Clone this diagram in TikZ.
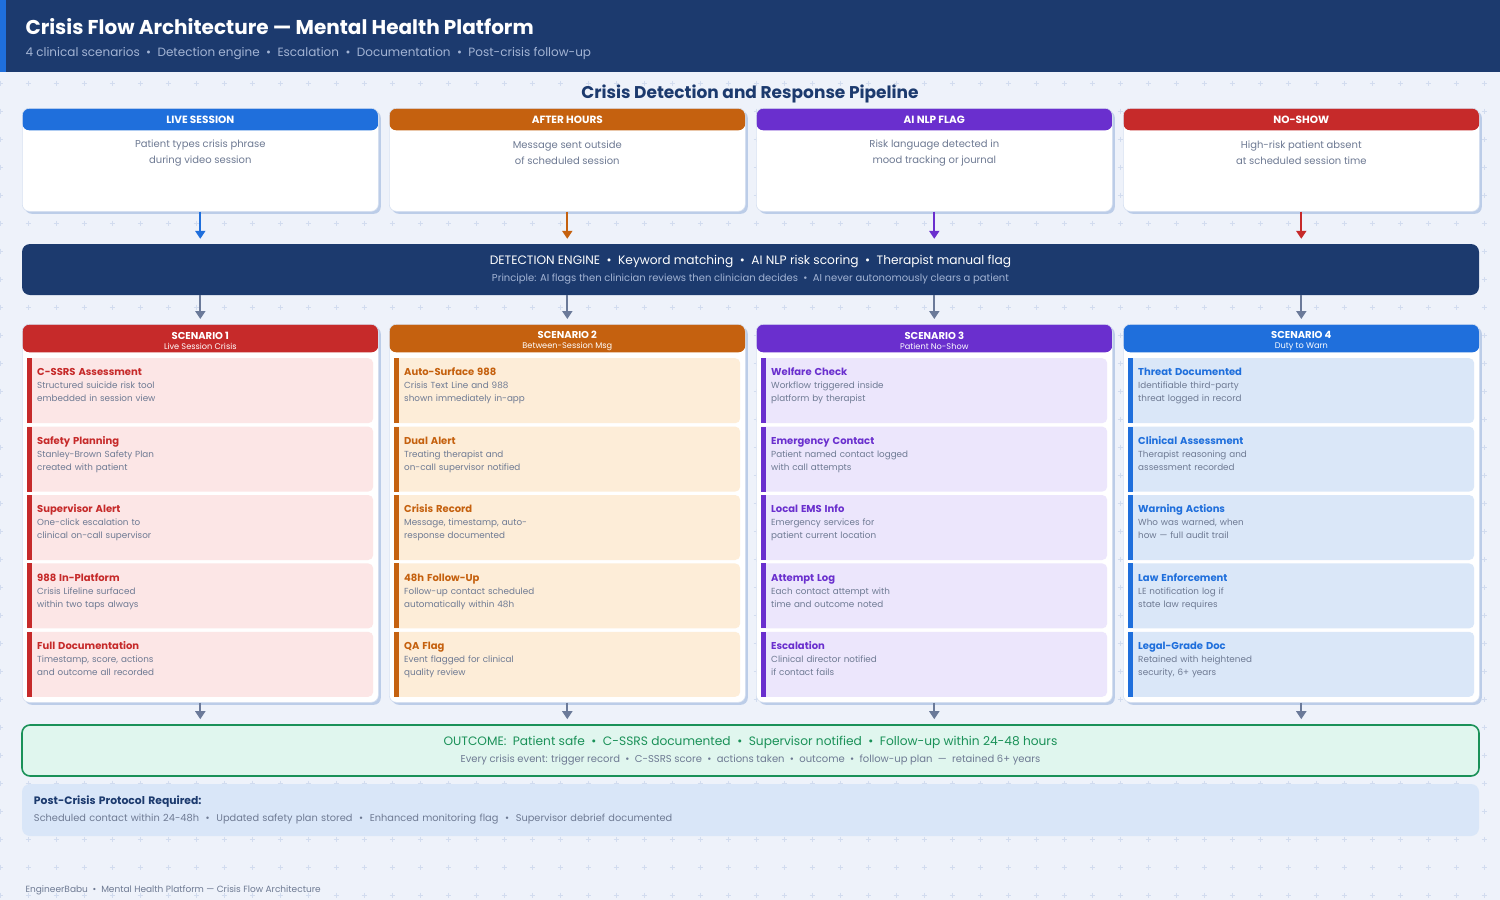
\documentclass[tikz,border=0pt]{standalone}
\usepackage{fontspec}
\setmainfont{Poppins}
\usetikzlibrary{positioning,arrows.meta,calc,shadows}
\definecolor{Navy}{HTML}{1C3A6E}
\definecolor{PageBg}{HTML}{EEF2FA}
\definecolor{GridMark}{HTML}{D2DCEF}
\definecolor{LiveBlue}{HTML}{1F6FDC}
\definecolor{AfterOrange}{HTML}{C5610F}
\definecolor{NlpPurple}{HTML}{6A2FCE}
\definecolor{NoShowRed}{HTML}{C62A2A}
\definecolor{RedTint}{HTML}{FCE6E6}
\definecolor{OrangeTint}{HTML}{FDEDD8}
\definecolor{PurpleTint}{HTML}{ECE6FC}
\definecolor{BlueTint}{HTML}{DAE7F8}
\definecolor{TextGray}{HTML}{6E7A93}
\definecolor{SubBlue}{HTML}{A3B4D4}
\definecolor{ArrowGray}{HTML}{6B7A99}
\definecolor{CardEdge}{HTML}{BCCDE8}
\definecolor{OutGreen}{HTML}{1A9158}
\definecolor{OutFill}{HTML}{E0F6EE}
\definecolor{PostFill}{HTML}{D9E6F8}
\newcommand{\steptitle}[2]{{\fontsize{10}{13}\selectfont\bfseries\color{#1}#2}}

\begin{document}
\begin{tikzpicture}[x=1pt,y=-1pt,
  card/.style 2 args={draw=CardEdge!60,line width=0.6pt,rounded corners=7pt,fill=white,
    minimum width=356pt,inner sep=0pt,anchor=north west,
    drop shadow={shadow xshift=2.5pt,shadow yshift=-2.5pt,fill=CardEdge,opacity=1},
    path picture={\fill[#1] (path picture bounding box.north west)
      rectangle ([yshift=-#2]path picture bounding box.north east);}},
  trig/.style={card={#1}{22pt},minimum height=103pt},
  scen/.style={card={#1}{28pt},minimum height=378pt},
  thdr/.style={text=white,font=\fontsize{10.5}{12}\selectfont\bfseries},
  tdesc/.style={text=TextGray,align=center,font=\fontsize{10}{16}\selectfont},
  shdr/.style={text=white,align=center,font=\fontsize{10}{11}\selectfont\bfseries},
  item/.style 2 args={anchor=north west,inner xsep=10pt,inner ysep=6pt,
    minimum width=346pt,minimum height=65pt,text width=326pt,align=left,
    text height=11.5pt,text depth=41pt,text=TextGray,
    font=\fontsize{8.8}{13}\selectfont,
    path picture={\fill[#2,rounded corners=5pt] ([xshift=-10pt]path picture bounding box.north west)
      rectangle (path picture bounding box.south east);
      \fill[#1] (path picture bounding box.north west)
      rectangle ([xshift=5pt]path picture bounding box.south west);}},
  red/.style={item={NoShowRed}{RedTint}},
  orange/.style={item={AfterOrange}{OrangeTint}},
  purple/.style={item={NlpPurple}{PurpleTint}},
  blue/.style={item={LiveBlue}{BlueTint}},
  band/.style={rounded corners=8pt,minimum width=1457pt,inner sep=0pt,align=center},
  tar/.style={-{Triangle[width=10pt,length=8pt]},draw=#1,line width=2pt,shorten >=5pt},
  gar/.style={tar=ArrowGray},
  gridmark/.style={draw=GridMark,line width=0.7pt},
]
% page and grid
\fill[PageBg] (0,0) rectangle (1500,900);
\useasboundingbox (0,0) rectangle (1500,900);
\foreach \gx in {0,28,...,1500} {
  \foreach \gy in {83,111,...,899} {
    \draw[gridmark] (\gx-2.5,\gy) -- (\gx+2.5,\gy) (\gx,\gy-2.5) -- (\gx,\gy+2.5);
  }
}

% header
\fill[Navy] (0,0) rectangle (1500,72);
\fill[LiveBlue] (0,0) rectangle (6,72);
\node[anchor=west,text=white,font=\fontsize{20}{24}\selectfont\bfseries] (title) at (22,27)
  {Crisis Flow Architecture — Mental Health Platform};
\node[anchor=west,text=SubBlue,font=\fontsize{12}{15}\selectfont] (subtitle) at (22,53.5)
  {4 clinical scenarios \ \textbullet\ \ Detection engine \ \textbullet\ \ Escalation \ \textbullet\ \ Documentation \ \textbullet\ \ Post-crisis follow-up};
\node[text=Navy,font=\fontsize{17}{20}\selectfont\bfseries] (pipe) at (750,94)
  {Crisis Detection and Response Pipeline};

% trigger cards
\node[trig=LiveBlue] (t1) at (22,108) {};
\node[trig=AfterOrange] (t2) at (389,108) {};
\node[trig=NlpPurple] (t3) at (756,108) {};
\node[trig=NoShowRed] (t4) at (1123,108) {};
\node[thdr] (t1h) at ([yshift=-11.5pt]t1.north) {LIVE SESSION};
\node[thdr] (t2h) at ([yshift=-11.5pt]t2.north) {AFTER HOURS};
\node[thdr] (t3h) at ([yshift=-11.5pt]t3.north) {AI NLP FLAG};
\node[thdr] (t4h) at ([yshift=-11.5pt]t4.north) {NO-SHOW};
\node[tdesc] (t1d) at ([yshift=-45pt]t1.north) {Patient types crisis phrase\\during video session};
\node[tdesc] (t2d) at ([yshift=-45pt]t2.north) {Message sent outside\\of scheduled session};
\node[tdesc] (t3d) at ([yshift=-45pt]t3.north) {Risk language detected in\\mood tracking or journal};
\node[tdesc] (t4d) at ([yshift=-45pt]t4.north) {High-risk patient absent\\at scheduled session time};

% detection engine
\node[band,fill=Navy,minimum height=51pt,text=white] (eng) at (750.5,269.5)
  {{\fontsize{12.2}{15}\selectfont DETECTION ENGINE \ \textbullet\ \ Keyword matching \ \textbullet\ \ AI NLP risk scoring \ \textbullet\ \ Therapist manual flag}\\[5pt]
   {\fontsize{10}{12}\selectfont\color{SubBlue}Principle: AI flags then clinician reviews then clinician decides \ \textbullet\ \ AI never autonomously clears a patient}};
\draw[tar=LiveBlue] (t1) -- (t1 |- eng.north);
\draw[tar=AfterOrange] (t2) -- (t2 |- eng.north);
\draw[tar=NlpPurple] (t3) -- (t3 |- eng.north);
\draw[tar=NoShowRed] (t4) -- (t4 |- eng.north);

% scenario cards
\node[scen=NoShowRed] (s1) at (22,324) {};
\node[scen=AfterOrange] (s2) at (389,324) {};
\node[scen=NlpPurple] (s3) at (756,324) {};
\node[scen=LiveBlue] (s4) at (1123,324) {};
\node[shdr] (s1h) at ([yshift=-16.5pt]s1.north) {SCENARIO 1\\[-1pt]{\fontsize{8.2}{9}\selectfont\mdseries Live Session Crisis}};
\node[shdr] (s2h) at ([yshift=-16.5pt]s2.north) {SCENARIO 2\\[-1pt]{\fontsize{8.2}{9}\selectfont\mdseries Between-Session Msg}};
\node[shdr] (s3h) at ([yshift=-16.5pt]s3.north) {SCENARIO 3\\[-1pt]{\fontsize{8.2}{9}\selectfont\mdseries Patient No-Show}};
\node[shdr] (s4h) at ([yshift=-16.5pt]s4.north) {SCENARIO 4\\[-1pt]{\fontsize{8.2}{9}\selectfont\mdseries Duty to Warn}};
\draw[gar] (eng.south -| s1) -- (s1);
\draw[gar] (eng.south -| s2) -- (s2);
\draw[gar] (eng.south -| s3) -- (s3);
\draw[gar] (eng.south -| s4) -- (s4);

% scenario 1: live session crisis
\node[red] (s1a) at (27,358) {\steptitle{NoShowRed}{C-SSRS Assessment}\\Structured suicide risk tool\\embedded in session view};
\node[red,below=3pt of s1a] (s1b) {\steptitle{NoShowRed}{Safety Planning}\\Stanley-Brown Safety Plan\\created with patient};
\node[red,below=3pt of s1b] (s1c) {\steptitle{NoShowRed}{Supervisor Alert}\\One-click escalation to\\clinical on-call supervisor};
\node[red,below=3pt of s1c] (s1d) {\steptitle{NoShowRed}{988 In-Platform}\\Crisis Lifeline surfaced\\within two taps always};
\node[red,below=3pt of s1d] (s1e) {\steptitle{NoShowRed}{Full Documentation}\\Timestamp, score, actions\\and outcome all recorded};

% scenario 2: between-session message
\node[orange] (s2a) at (394,358) {\steptitle{AfterOrange}{Auto-Surface 988}\\Crisis Text Line and 988\\shown immediately in-app};
\node[orange,below=3pt of s2a] (s2b) {\steptitle{AfterOrange}{Dual Alert}\\Treating therapist and\\on-call supervisor notified};
\node[orange,below=3pt of s2b] (s2c) {\steptitle{AfterOrange}{Crisis Record}\\Message, timestamp, auto-\\response documented};
\node[orange,below=3pt of s2c] (s2d) {\steptitle{AfterOrange}{48h Follow-Up}\\Follow-up contact scheduled\\automatically within 48h};
\node[orange,below=3pt of s2d] (s2e) {\steptitle{AfterOrange}{QA Flag}\\Event flagged for clinical\\quality review};

% scenario 3: patient no-show
\node[purple] (s3a) at (761,358) {\steptitle{NlpPurple}{Welfare Check}\\Workflow triggered inside\\platform by therapist};
\node[purple,below=3pt of s3a] (s3b) {\steptitle{NlpPurple}{Emergency Contact}\\Patient named contact logged\\with call attempts};
\node[purple,below=3pt of s3b] (s3c) {\steptitle{NlpPurple}{Local EMS Info}\\Emergency services for\\patient current location};
\node[purple,below=3pt of s3c] (s3d) {\steptitle{NlpPurple}{Attempt Log}\\Each contact attempt with\\time and outcome noted};
\node[purple,below=3pt of s3d] (s3e) {\steptitle{NlpPurple}{Escalation}\\Clinical director notified\\if contact fails};

% scenario 4: duty to warn
\node[blue] (s4a) at (1128,358) {\steptitle{LiveBlue}{Threat Documented}\\Identifiable third-party\\threat logged in record};
\node[blue,below=3pt of s4a] (s4b) {\steptitle{LiveBlue}{Clinical Assessment}\\Therapist reasoning and\\assessment recorded};
\node[blue,below=3pt of s4b] (s4c) {\steptitle{LiveBlue}{Warning Actions}\\Who was warned, when\\how — full audit trail};
\node[blue,below=3pt of s4c] (s4d) {\steptitle{LiveBlue}{Law Enforcement}\\LE notification log if\\state law requires};
\node[blue,below=3pt of s4d] (s4e) {\steptitle{LiveBlue}{Legal-Grade Doc}\\Retained with heightened\\security, 6+ years};

% outcome and follow-up
\node[band,fill=OutFill,draw=OutGreen,line width=1.6pt,minimum height=51pt] (out) at (750.5,750.5)
  {{\fontsize{12.2}{15}\selectfont\color{OutGreen}OUTCOME: \ Patient safe \ \textbullet\ \ C-SSRS documented \ \textbullet\ \ Supervisor notified \ \textbullet\ \ Follow-up within 24-48 hours}\\[5pt]
   {\fontsize{10}{12}\selectfont\color{TextGray}Every crisis event: trigger record \ \textbullet\ \ C-SSRS score \ \textbullet\ \ actions taken \ \textbullet\ \ outcome \ \textbullet\ \ follow-up plan \ — \ retained 6+ years}};
\draw[gar] (s1) -- (s1 |- out.north);
\draw[gar] (s2) -- (s2 |- out.north);
\draw[gar] (s3) -- (s3 |- out.north);
\draw[gar] (s4) -- (s4 |- out.north);
\node[band,fill=PostFill,minimum height=52pt,text width=1433pt,align=left] (post) at (750.5,810)
  {{\fontsize{10.8}{12}\selectfont\bfseries\color{Navy}Post-Crisis Protocol Required:}\\[5pt]
   {\fontsize{9.8}{12}\selectfont\color{TextGray}Scheduled contact within 24-48h \ \textbullet\ \ Updated safety plan stored \ \textbullet\ \ Enhanced monitoring flag \ \textbullet\ \ Supervisor debrief documented}};

% footer
\node[anchor=west,text=TextGray,font=\fontsize{9}{10}\selectfont] (foot) at (22,890)
  {EngineerBabu \ \textbullet\ \ Mental Health Platform — Crisis Flow Architecture};
\end{tikzpicture}
\end{document}
